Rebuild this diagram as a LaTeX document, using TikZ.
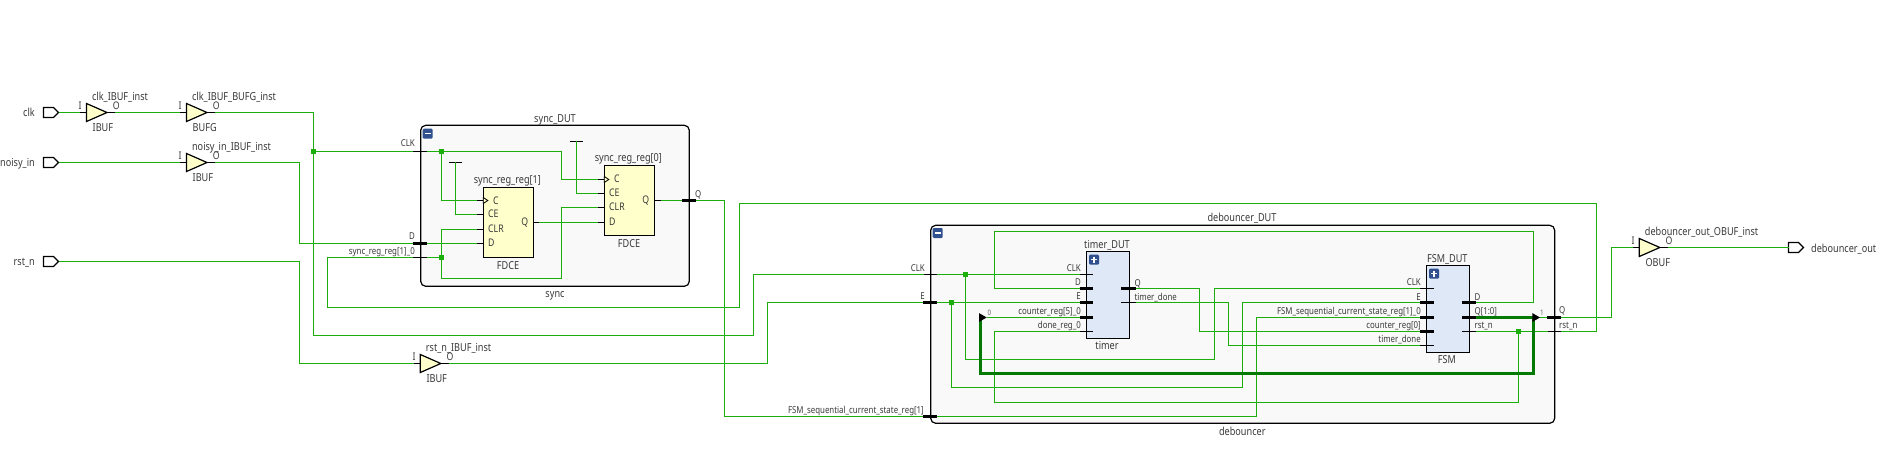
\documentclass[tikz,border=0pt]{standalone}
\usepackage{fontspec}
\setmainfont{Noto Sans}[FakeStretch=0.83]
\definecolor{wireg}{HTML}{1CAF0C}
\definecolor{busg}{HTML}{047A04}
\definecolor{txt}{HTML}{3A3A3A}
\definecolor{ffill}{HTML}{FFFFCC}
\definecolor{hfill}{HTML}{DEE8F6}
\definecolor{gfill}{HTML}{F9F9F9}
\definecolor{icon}{HTML}{2F4F8F}
\newcounter{lblno}
\tikzset{
  x=1pt,y=-1pt,
  lbl/.style={inner sep=0pt,text=txt,font=\fontsize{9.5}{12}\selectfont,text height=7.2pt,text depth=2.4pt,yshift=-0.8pt},
  namelbl/.style={lbl,font=\fontsize{11}{13}\selectfont,text height=8.2pt,text depth=2.7pt,yshift=-1pt},
  cellpin/.style={lbl,font=\fontsize{10.5}{13}\selectfont,text height=7.8pt,text depth=2.6pt},
  smalllbl/.style={lbl,font=\fontsize{7.5}{9}\selectfont,text=black!60},
  wire/.style={draw=wireg,line width=1.2pt},
  bus/.style={draw=busg,line width=3pt},
  busthin/.style={draw=busg,line width=2.2pt},
  thinstub/.style={draw=black,line width=1pt},
  thickstub/.style={draw=black,line width=2.6pt},
  hier/.style={draw=black,line width=1.2pt,fill=gfill,rounded corners=5pt},
  prim/.style={draw=black,line width=1.2pt,fill=ffill,inner sep=0pt},
  hbox/.style={draw=black,line width=1.2pt,fill=hfill,inner sep=0pt},
  dot/.style={fill=wireg,draw=none,inner sep=0pt,minimum size=5pt},
  iconbox/.style={fill=icon,draw=none,rounded corners=1.2pt,inner sep=0pt,minimum size=10pt,text=white},
}
% labels: east, west, centre anchored, optional style
\newcommand\Rt[4][lbl]{\stepcounter{lblno}\node[#1,anchor=east] (l\thelblno) at (#2,#3) {#4};}
\newcommand\Lt[4][lbl]{\stepcounter{lblno}\node[#1,anchor=west] (l\thelblno) at (#2,#3) {#4};}
\newcommand\Ct[4][namelbl]{\stepcounter{lblno}\node[#1,anchor=center] (l\thelblno) at (#2,#3) {#4};}
% pin stub: name, x1, x2, y, style
\newcommand\pin[5]{\coordinate (#1-w) at (#2,#4);\coordinate (#1-e) at (#3,#4);\draw[#5] (#1-w) -- (#1-e);}
% buffer: name, triangle left x, y, instance, type
\newcommand\buf[5]{%
  \coordinate (#1-i) at (#2-6.5,#3);\coordinate (#1-o) at (#2+28.5,#3);
  \coordinate (#1-tip) at (#2+20.5,#3);\coordinate (#1-in) at (#2,#3);
  \draw[thinstub] (#1-i) -- (#1-in) (#1-tip) -- (#1-o);
  \draw[draw=black,line width=1.2pt,fill=ffill,line join=miter] (#2,#3-9) -- (#1-tip) -- (#2,#3+9) -- cycle;
  \Lt[namelbl]{#2+5.4}{#3-16.7}{#4}
  \Lt[namelbl]{#2+6}{#3+14.4}{#5}
  \Ct[cellpin]{#2-6.3}{#3-6.6}{I}
  \Ct[cellpin]{#2+29.7}{#3-6.6}{O}
}
% port pentagon: name, left x, y
\newcommand\port[3]{%
  \coordinate (#1-in) at (#2,#3);\coordinate (#1-tip) at (#2+15,#3);
  \draw[draw=black,line width=1.2pt,fill=white] (#2,#3-5) -- (#2+10,#3-5) -- (#1-tip) -- (#2+10,#3+5) -- (#2,#3+5) -- cycle;
}
\newcommand\ckmark[2]{\draw[draw=black,line width=.8pt,fill=ffill] (#1,#2-3) -- (#1+4.5,#2) -- (#1,#2+3) -- cycle;}
\newcommand\minusicon[3]{\node[iconbox] (#1) at (#2,#3) {};\draw[white,line width=1.4pt] (#2-3,#3) -- (#2+3,#3);}
\newcommand\plusicon[3]{\node[iconbox] (#1) at (#2,#3) {};\draw[white,line width=1.4pt] (#2-3,#3) -- (#2+3,#3) (#2,#3-3) -- (#2,#3+3);}
\begin{document}
\begin{tikzpicture}
\useasboundingbox[fill=white] (0,0) rectangle (1883,476);

% ---- containers ----
\node[hier,minimum width=268.6pt,minimum height=161pt,inner sep=0pt] (sync) at (555,205.8) {};
\node[hier,minimum width=624pt,minimum height=198pt,inner sep=0pt] (deb) at (1242.7,324.3) {};
\minusicon{syncicon}{427.7}{133.7}
\minusicon{debicon}{937.7}{233}
\Ct{555}{117.7}{sync\_DUT}
\Ct{555}{293}{sync}
\Ct{1242}{216.7}{debouncer\_DUT}
\Ct{1242.3}{430.7}{debouncer}

% ---- primitive cells ----
\node[prim,minimum width=50pt,minimum height=70pt] (ff1) at (508.3,222.3) {};
\node[prim,minimum width=50pt,minimum height=70pt] (ff0) at (629.3,200.3) {};
\node[hbox,minimum width=43.4pt,minimum height=87pt] (timer) at (1108,294.8) {};
\node[hbox,minimum width=42.6pt,minimum height=86.6pt] (fsm) at (1448,309) {};
\plusicon{timericon}{1094}{259.7}
\plusicon{fsmicon}{1434}{273.7}

\Ct{507.3}{179}{sync\_reg\_reg[1]}
\Ct{508}{264.7}{FDCE}
\Ct{628.3}{157}{sync\_reg\_reg[0]}
\Ct{629}{242.7}{FDCE}
\Ct{1107}{244}{timer\_DUT}
\Ct{1107}{345}{timer}
\Ct{1447.3}{257.7}{FSM\_DUT}
\Ct{1447}{358.7}{FSM}

% ---- ports and buffers ----
\port{clk}{43.5}{112.5}
\port{noisy}{43.5}{162.5}
\port{rst}{43.5}{261.5}
\port{dout}{1788.5}{247.5}
\Rt[namelbl]{35}{111.7}{clk}
\Rt[namelbl]{35}{161.7}{noisy\_in}
\Rt[namelbl]{35}{260.7}{rst\_n}
\Lt[namelbl]{1811}{247.7}{debouncer\_out}
\buf{ibclk}{86.5}{112.5}{clk\_IBUF\_inst}{IBUF}
\buf{bufg}{186.5}{112.5}{clk\_IBUF\_BUFG\_inst}{BUFG}
\buf{ibnoisy}{186.5}{162.5}{noisy\_in\_IBUF\_inst}{IBUF}
\buf{ibrst}{420.3}{363.5}{rst\_n\_IBUF\_inst}{IBUF}
\buf{obuf}{1639.3}{247.5}{debouncer\_out\_OBUF\_inst}{OBUF}

% ---- pins: sync ----
\pin{sCLK}{412.7}{426.7}{151.5}{thinstub}
\pin{sD}{412.7}{426.7}{243.5}{thickstub}
\pin{sI}{412.7}{426.7}{257.5}{thinstub}
\pin{sQ}{682.3}{696}{200.5}{thickstub}
\Rt{415}{143.7}{CLK}
\Rt{415}{236.7}{D}
\Rt{415}{251}{sync\_reg\_reg[1]\_0}
\Lt{695}{194}{Q}
% ff1
\pin{f1C}{477.3}{483.3}{200.5}{thinstub}
\pin{f1E}{477.3}{483.3}{214.5}{thinstub}
\pin{f1R}{477.3}{483.3}{229.5}{thinstub}
\pin{f1D}{477.3}{483.3}{243.5}{thinstub}
\pin{f1Q}{533.3}{539.3}{222.5}{thinstub}
\ckmark{483.3}{200.5}
\Lt[cellpin]{493}{200.7}{C}
\Lt[cellpin]{488}{214.5}{CE}
\Lt[cellpin]{488}{229}{CLR}
\Lt[cellpin]{488}{243.3}{D}
\Rt[cellpin]{528.3}{222.3}{Q}
% ff0
\pin{f0C}{598.3}{604.3}{179.5}{thinstub}
\pin{f0E}{598.3}{604.3}{193.5}{thinstub}
\pin{f0R}{598.3}{604.3}{207.5}{thinstub}
\pin{f0D}{598.3}{604.3}{222.5}{thinstub}
\pin{f0Q}{654.3}{660.7}{200.5}{thinstub}
\ckmark{604.3}{179.5}
\Lt[cellpin]{614}{179}{C}
\Lt[cellpin]{609}{193}{CE}
\Lt[cellpin]{609}{207.3}{CLR}
\Lt[cellpin]{609}{222.3}{D}
\Rt[cellpin]{649.3}{200.3}{Q}
% vcc bars
\coordinate (v1) at (455.5,162.5);
\coordinate (v0) at (576.5,141.5);
\draw[thinstub] (449,162.5) -- (461.7,162.5);
\draw[thinstub] (570.3,141.5) -- (583,141.5);

% ---- pins: debouncer ----
\pin{dCLK}{924}{937}{274.5}{thinstub}
\pin{dE}{923.3}{937}{302.5}{thickstub}
\pin{dF}{923.3}{937}{416.5}{thickstub}
\pin{dQ}{1547.3}{1561}{317.5}{thickstub}
\pin{dR}{1548}{1561}{331.5}{thinstub}
\Rt{925}{268}{CLK}
\Rt{925}{296}{E}
\Rt{924}{410.3}{FSM\_sequential\_current\_state\_reg[1]}
\Lt{1559}{310.3}{Q}
\Lt{1559}{325}{rst\_n}
% timer
\pin{tCLK}{1079.5}{1093}{274.5}{thinstub}
\pin{tD}{1079.5}{1093}{288.5}{thickstub}
\pin{tE}{1079.5}{1093}{302.5}{thickstub}
\pin{tC}{1079.5}{1093}{317.5}{thickstub}
\pin{tDn}{1079.5}{1093}{331.5}{thinstub}
\pin{tQ}{1121}{1135.7}{288.5}{thickstub}
\pin{tTd}{1121}{1135.7}{302.5}{thinstub}
\Rt{1081}{268}{CLK}
\Rt{1081}{282.7}{D}
\Rt{1081}{296.7}{E}
\Rt{1081}{311}{counter\_reg[5]\_0}
\Rt{1081}{325}{done\_reg\_0}
\Lt{1134.3}{283}{Q}
\Lt{1134.3}{297}{timer\_done}
% FSM
\pin{mCLK}{1420}{1433.7}{288.5}{thinstub}
\pin{mE}{1420}{1433.7}{302.5}{thickstub}
\pin{mF}{1420}{1433.7}{317.5}{thickstub}
\pin{mC}{1420}{1433.7}{331.5}{thickstub}
\pin{mT}{1420}{1433.7}{345.5}{thinstub}
\pin{mD}{1462}{1476}{302.5}{thickstub}
\pin{mQ}{1462}{1476}{317.5}{thickstub}
\pin{mR}{1462}{1476}{331.5}{thinstub}
\Rt{1421}{282}{CLK}
\Rt{1421}{297}{E}
\Rt{1421}{311}{FSM\_sequential\_current\_state\_reg[1]\_0}
\Rt{1421}{325}{counter\_reg[0]}
\Rt{1421}{339}{timer\_done}
\Lt{1474.3}{297}{D}
\Lt{1474.3}{311}{Q[1:0]}
\Lt{1474.3}{325}{rst\_n}

% ---- waypoints ----
\coordinate (clkA) at (313.5,335.5);
\coordinate (clkB) at (753.5,335.5);
\coordinate (clkJ) at (313.5,151.5);
\coordinate (nA) at (299.5,243.5);
\coordinate (rA) at (299.5,363.5);
\coordinate (eA) at (767.5,363.5);
\coordinate (qA) at (724.5,416.5);
\coordinate (lA) at (327.5,307.5);
\coordinate (lB) at (739.5,307.5);
\coordinate (lC) at (1596.5,203.5);
\coordinate (oA) at (1611.5,317.5);
\coordinate (sJ1) at (441.5,151.5);
\coordinate (sJ2) at (441.5,257.5);
\coordinate (sB) at (561.5,151.5);
\coordinate (sRa) at (441.5,278.5);
\coordinate (sRb) at (561.5,278.5);
\coordinate (dJ1) at (965.5,274.5);
\coordinate (dJ2) at (951.5,302.5);
\coordinate (dJ3) at (1518.5,331.5);
\coordinate (c1) at (965.5,359.5);
\coordinate (c2) at (1214.5,359.5);
\coordinate (e1) at (951.5,387.5);
\coordinate (e2) at (1242.5,387.5);
\coordinate (fA) at (1256.5,416.5);
\coordinate (dA) at (1533.5,231.5);
\coordinate (dB) at (994.5,231.5);
\coordinate (qT) at (1199.5,331.5);
\coordinate (tdT) at (1228.5,345.5);
\coordinate (dn1) at (994.5,402.5);
\coordinate (dn2) at (1518.5,402.5);
\coordinate (bL) at (980.5,317.5);
\coordinate (bL2) at (980.5,373.5);
\coordinate (bR2) at (1533.5,373.5);
\coordinate (bR) at (1533.5,317.5);
\coordinate (arL) at (986.7,317.5);
\coordinate (arR) at (1540,317.5);

% ---- top-level wires ----
\draw[wire] (clk-tip) -- (ibclk-i);
\draw[wire] (ibclk-o) -- (bufg-i);
\draw[wire] (bufg-o) -| (clkA) -- (clkB) |- (dCLK-w);
\draw[wire] (clkJ) -- (sCLK-w);
\draw[wire] (noisy-tip) -- (ibnoisy-i);
\draw[wire] (ibnoisy-o) -| (nA) -- (sD-w);
\draw[wire] (rst-tip) -| (rA) -- (ibrst-i);
\draw[wire] (ibrst-o) -- (eA) |- (dE-w);
\draw[wire] (sQ-e) -| (qA) -- (dF-w);
\draw[wire] (sI-w) -| (lA) -- (lB) |- (lC) |- (dR-e);
\draw[wire] (dQ-e) -| (oA) |- (obuf-i);
\draw[wire] (obuf-o) -- (dout-in);

% ---- sync internals ----
\draw[wire] (sCLK-e) -- (sB) |- (f0C-w);
\draw[wire] (sJ1) |- (f1C-w);
\draw[wire] (v1) |- (f1E-w);
\draw[wire] (v0) |- (f0E-w);
\draw[wire] (sI-e) -- (sJ2);
\draw[wire] (f1R-w) -| (sRa) -- (sRb) |- (f0R-w);
\draw[wire] (sD-e) -- (f1D-w);
\draw[wire] (f1Q-e) -- (f0D-w);
\draw[wire] (f0Q-e) -- (sQ-w);

% ---- debouncer internals ----
\draw[wire] (dCLK-e) -- (tCLK-w);
\draw[wire] (dE-e) -- (tE-w);
\draw[wire] (dJ1) -- (c1) -- (c2) |- (mCLK-w);
\draw[wire] (dJ2) -- (e1) -- (e2) |- (mE-w);
\draw[wire] (dF-e) -| (fA) |- (mF-w);
\draw[wire] (mD-e) -| (dA) -- (dB) |- (tD-w);
\draw[wire] (tQ-e) -| (qT) -- (mC-w);
\draw[wire] (tTd-e) -| (tdT) -- (mT-w);
\draw[wire] (tDn-w) -| (dn1) -- (dn2) -- (dJ3);
\draw[wire] (mR-e) -- (dR-w);
\draw[wire] (arL) -- (tC-w);
\draw[wire] (arR) -- (dQ-w);
\draw[busthin] (mQ-e) -- (bR);
\draw[bus,line join=miter] (bL) -- (bL2) -- (bR2) -- (bR);
\draw[fill=black,draw=none] (979,313.1) -- (arL) -- (979,321.9) -- cycle;
\draw[fill=black,draw=none] (1532.3,313.1) -- (arR) -- (1532.3,321.9) -- cycle;
\stepcounter{lblno}\node[smalllbl] (l\thelblno) at (989.5,312) {0};
\stepcounter{lblno}\node[smalllbl] (l\thelblno) at (1542,312) {1};

% ---- junctions ----
\node[dot] (j1) at (clkJ) {};
\node[dot] (j2) at (sJ1) {};
\node[dot] (j3) at (sJ2) {};
\node[dot] (j4) at (dJ1) {};
\node[dot] (j5) at (dJ2) {};
\node[dot] (j6) at (dJ3) {};
\end{tikzpicture}
\end{document}
